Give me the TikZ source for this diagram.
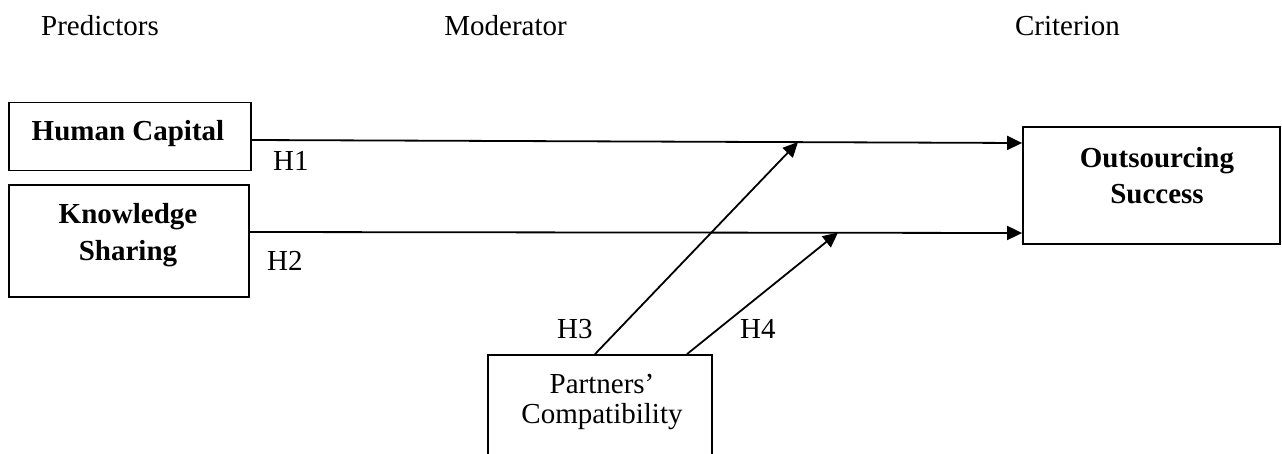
\documentclass[tikz,border=0pt]{standalone}
\usepackage{fontspec}
\setmainfont{Liberation Serif}
\usetikzlibrary{arrows.meta}
\begin{document}
\begin{tikzpicture}[x=1pt,y=-1pt,
  box/.style={draw,line width=1.8pt,rectangle,inner sep=0pt},
  lbl/.style={inner sep=0pt,font=\fontsize{29}{35}\selectfont},
  blbl/.style={inner sep=0pt,font=\fontsize{29}{35}\selectfont\bfseries},
  conn/.style={line width=1.8pt,-{Triangle[length=15pt,width=14pt]}}]
\useasboundingbox (0,0) rectangle (1282,453);
\clip (0,0) rectangle (1282,453);
% headings
\node[lbl,anchor=base west] (pred) at (41,35) {Predictors};
\node[lbl,anchor=base east] (mod) at (567,35) {Moderator};
\node[lbl,anchor=base east] (crit) at (1120,35) {Criterion};
% boxes
\node[box,minimum width=242pt,minimum height=68pt] (hc) at (130,136.5) {};
\node[box,minimum width=240pt,minimum height=112pt] (ks) at (129,241) {};
\node[box,minimum width=257pt,minimum height=117pt] (os) at (1151.5,185.5) {};
\node[box,minimum width=224pt,minimum height=125pt] (pc) at (600,417.5) {};
% box texts
\node[blbl,anchor=base] (hct) at (128,140) {Human Capital};
\node[blbl,anchor=base] (kst1) at (128,223) {Knowledge};
\node[blbl,anchor=base] (kst2) at (128,260) {Sharing};
\node[blbl,anchor=base] (ost1) at (1157,167) {Outsourcing};
\node[blbl,anchor=base] (ost2) at (1157,203) {Success};
\node[lbl,anchor=base] (pct1) at (602,393) {Partners’};
\node[lbl,anchor=base] (pct2) at (602,423) {Compatibility};
% hypothesis labels
\node[lbl,anchor=base west] (h1) at (273,170) {H1};
\node[lbl,anchor=base west] (h2) at (267,270) {H2};
\node[lbl,anchor=base west] (h3) at (557,338) {H3};
\node[lbl,anchor=base west] (h4) at (740,338) {H4};
% connectors
\coordinate (m1) at (798,142);
\coordinate (m2) at (838,232.5);
\draw[conn] ([yshift=-3.5pt]hc.east) -- ([yshift=42.5pt]os.west);
\draw[conn] ([yshift=9pt]ks.east) -- ([yshift=-47.5pt]os.west);
\draw[conn] ([xshift=-5pt]pc.north) -- (m1);
\draw[conn] ([xshift=87pt]pc.north) -- (m2);
\end{tikzpicture}
\end{document}
